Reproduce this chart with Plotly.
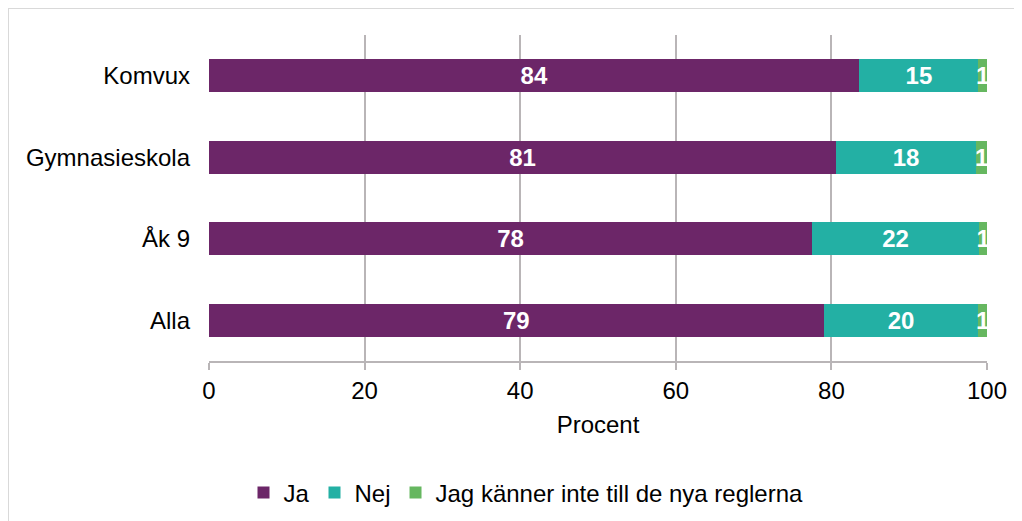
import plotly.graph_objects as go

categories = ["Alla", "Åk 9", "Gymnasieskola", "Komvux"]
ja = [79.0, 77.5, 80.6, 83.6]
nej = [19.9, 21.5, 18.0, 15.3]
vet_ej = [1.1, 1.0, 1.4, 1.1]
series_names = ["Ja", "Nej", "Jag känner inte till de nya reglerna"]
colors = ["#6C2668", "#23B0A4", "#66B760"]
x_ticks = [0, 20, 40, 60, 80, 100]

FONT = "Liberation Sans, Arial"

fig = go.Figure()
for name, vals, col in zip(series_names, [ja, nej, vet_ej], colors):
    fig.add_trace(go.Bar(
        y=categories, x=vals, name=name, orientation="h",
        marker=dict(color=col, line=dict(width=0)),
        width=0.41,
        texttemplate="%{x:.0f}", textposition="inside", textangle=0,
        insidetextanchor="middle", constraintext="none",
        textfont=dict(family=FONT, size=24, color="white", weight="bold"),
        cliponaxis=False,
    ))

W, H = 1014, 513
L, T = 201, 27
R = W - (987 - 8)
B = H - (361 - 8)
pw = W - L - R
ph = H - T - B

fig.update_layout(
    barmode="stack",
    width=W, height=H,
    margin=dict(l=L, r=R, t=T, b=B, autoexpand=False),
    paper_bgcolor="white", plot_bgcolor="white",
    font=dict(family=FONT, size=24, color="black"),
    showlegend=True,
    legend=dict(orientation="h", x=(518 - L) / pw, xanchor="center",
                y=-(485 - (H - B)) / ph, yanchor="middle",
                font=dict(size=24), traceorder="normal", itemwidth=30),
    xaxis=dict(range=[0, 100], tickvals=x_ticks, showgrid=True, gridcolor="#B9B5B7",
               gridwidth=2, showline=True, linecolor="#B9B5B7", linewidth=2,
               ticks="outside", ticklen=7, tickcolor="#B9B5B7", tickwidth=2,
               zeroline=False,
               title=dict(text="Procent", standoff=13, font=dict(size=24)),
               tickfont=dict(size=24)),
    yaxis=dict(showgrid=False, showline=False, ticks="", ticklabelstandoff=18,
               tickfont=dict(size=24), range=[-0.5, 3.5]),
    shapes=[dict(type="rect", xref="paper", yref="paper",
                 x0=-L / pw, x1=(W + 20 - L) / pw,
                 y0=-(B + 20) / ph, y1=(ph + T) / ph,
                 line=dict(color="#D9D9D9", width=2), fillcolor="rgba(0,0,0,0)",
                 layer="below")],
)

fig.write_html("out.html")
